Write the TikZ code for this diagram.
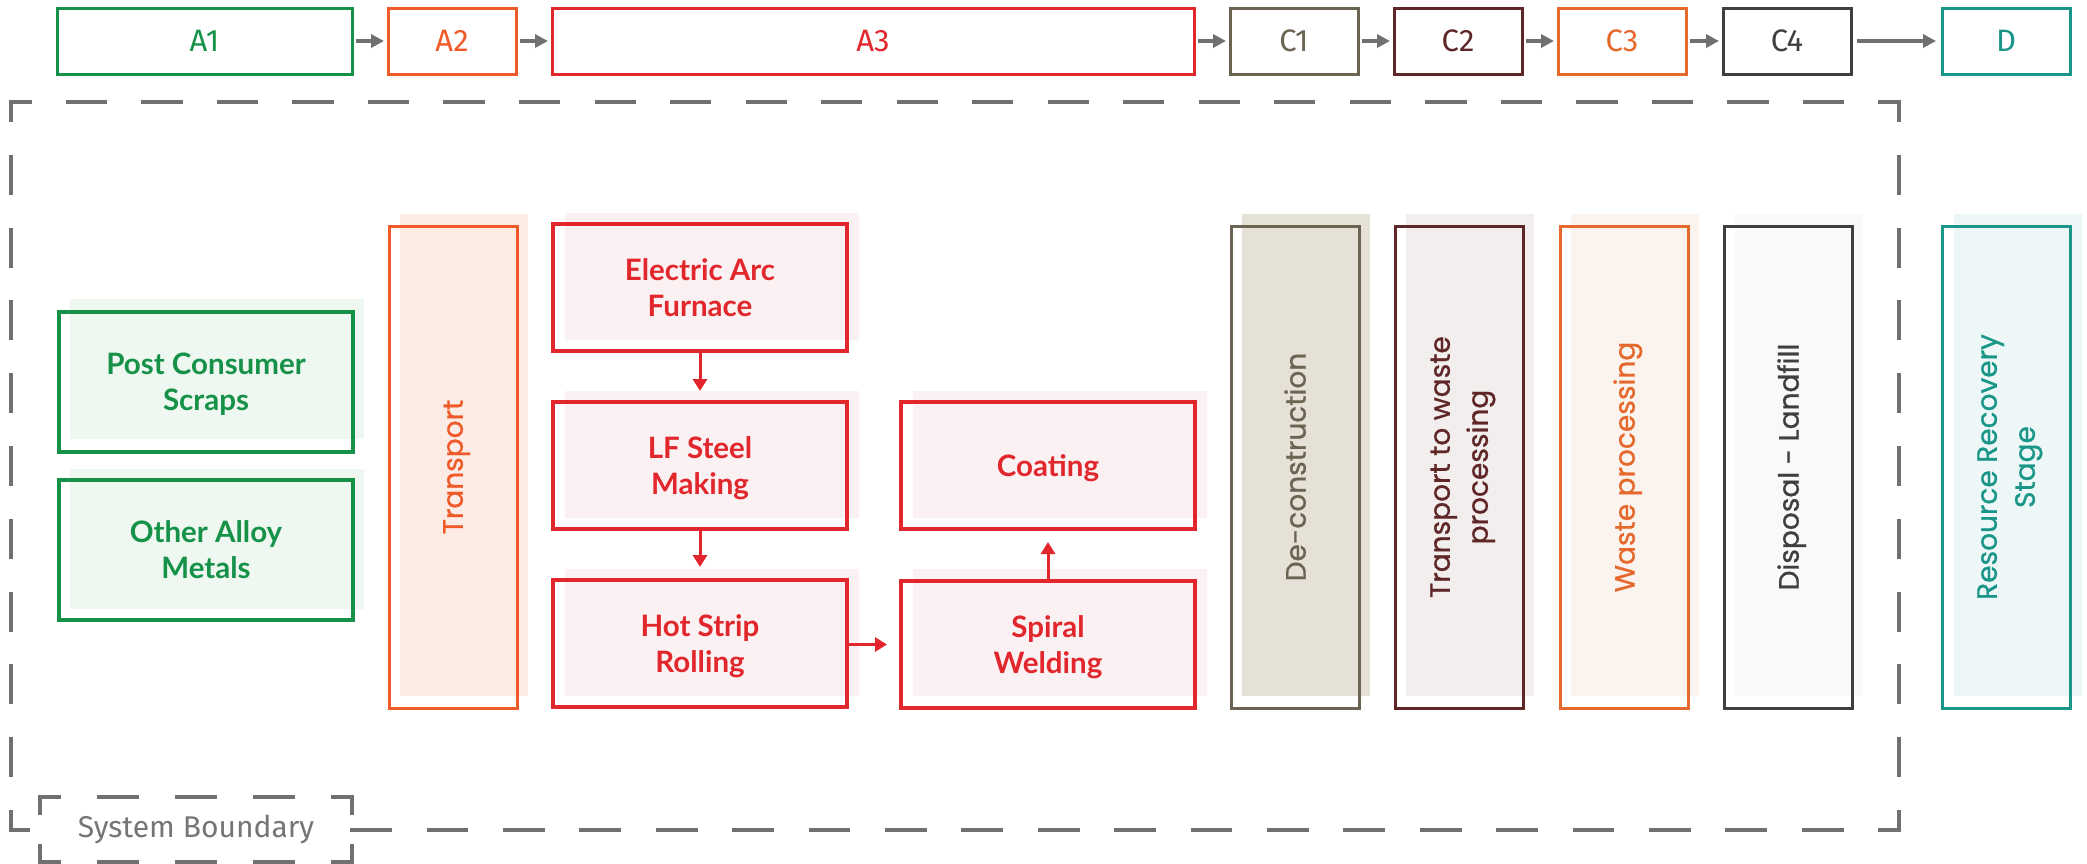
\documentclass[tikz,border=0pt]{standalone}
\usepackage{fontspec}
\setmainfont{Lato}
\newfontfamily\firafont{Fira Sans}
\newfontfamily\popfont{Poppins}[FakeBold=0.8]
\usetikzlibrary{arrows.meta,backgrounds}
\definecolor{cgreen}{HTML}{169248}
\definecolor{fgreen}{HTML}{EFF7F1}
\definecolor{corange}{HTML}{F05A28}
\definecolor{forange}{HTML}{FDEBE6}
\definecolor{cred}{HTML}{E1262C}
\definecolor{fred}{HTML}{FCF1F2}
\definecolor{ctaupe}{HTML}{6B6453}
\definecolor{ftaupe}{HTML}{E6E1D6}
\definecolor{cmaroon}{HTML}{5E2626}
\definecolor{fmaroon}{HTML}{F2EEED}
\definecolor{cwaste}{HTML}{E5692C}
\definecolor{fwaste}{HTML}{FAF3EE}
\definecolor{cdark}{HTML}{3F3F3F}
\definecolor{fdark}{HTML}{F8F9F8}
\definecolor{cteal}{HTML}{1A9688}
\definecolor{fteal}{HTML}{EEF7F8}
\definecolor{cgray}{HTML}{707070}
\definecolor{lgray}{HTML}{757575}
\begin{document}
\begin{tikzpicture}[x=1pt,y=-1pt,
 topbox/.style={draw=#1, text=#1, line width=3pt, minimum width=128pt, minimum height=66pt,
   inner sep=0pt, outer sep=0pt, font=\firafont\fontsize{31}{37}\selectfont},
 procbox/.style={draw=#1, text=#1, line width=3.5pt, minimum width=294pt, minimum height=127pt,
   inner sep=0pt, outer sep=0pt, align=center, text depth=-6pt,
   font=\bfseries\fontsize{29.5}{36}\selectfont},
 vbox/.style={draw=#1, text=#1, line width=3pt, rotate=90, minimum width=482pt, minimum height=128pt,
   inner sep=0pt, outer sep=0pt, align=center, text depth=0pt,
   font=\popfont\fontsize{28}{38}\selectfont},
 garrow/.style={draw=cgray, line width=4pt, -{Triangle[length=13pt,width=13pt]},
   shorten <=4pt, shorten >=4pt},
 rarrow/.style={draw=cred, line width=3pt, -{Triangle[length=12pt,width=14pt]}},
 bound/.style={draw=cgray, line width=3.5pt, line cap=rect},
 sblabel/.style={fill=white, minimum width=312pt, minimum height=65pt, inner sep=0pt, outer sep=0pt,
   text=lgray, font=\firafont\fontsize{30}{36}\selectfont}
]
\useasboundingbox (0,0) rectangle (2087,863);

% ---- top row of stages
\node[topbox=cgreen, minimum width=295pt] (A1) at (204.5,41) {A1};
\node[topbox=corange] (A2) at (452,41) {A2};
\node[topbox=cred, minimum width=642pt] (A3) at (873,41) {A3};
\node[topbox=ctaupe] (C1) at (1294,41) {C1};
\node[topbox=cmaroon] (C2) at (1458,41) {C2};
\node[topbox=cwaste] (C3) at (1622,41) {C3};
\node[topbox=cdark] (C4) at (1787,41) {C4};
\node[topbox=cteal] (D) at (2006,41) {D};
\draw[garrow] (A1) -- (A2);
\draw[garrow] (A2) -- (A3);
\draw[garrow] (A3) -- (C1);
\draw[garrow] (C1) -- (C2);
\draw[garrow] (C2) -- (C3);
\draw[garrow] (C3) -- (C4);
\draw[garrow, shorten <=6pt, shorten >=6pt] (C4) -- (D);

% ---- raw materials
\node[procbox=cgreen, minimum height=140pt] (pcs) at (206,382) {Post Consumer\\Scraps};
\node[procbox=cgreen, minimum height=140pt] (oam) at (206,550) {Other Alloy\\Metals};

% ---- transport
\node[vbox=corange] (tr) at (453,467) {Transport};

% ---- manufacturing
\node[procbox=cred] (eaf) at (700,287.5) {Electric Arc\\Furnace};
\node[procbox=cred] (lf) at (700,465.5) {LF Steel\\Making};
\node[procbox=cred] (hsr) at (700,643.5) {Hot Strip\\Rolling};
\node[procbox=cred, text depth=-9pt] (coat) at (1048,465.5) {Coating};
\node[procbox=cred] (sw) at (1048,644.5) {Spiral\\Welding};
\draw[rarrow, shorten >=11pt] (eaf.south) -- (lf.north);
\draw[rarrow, shorten >=13pt] (lf.south) -- (hsr.north);
\draw[rarrow, shorten >=14pt] (hsr.east |- sw.west) -- (sw.west);
\draw[rarrow, shorten >=13pt] (sw.north) -- (coat.south);

% ---- end of life
\node[vbox=ctaupe] (dec) at (1295,467) {De-construction};
\node[vbox=cmaroon, text depth=-7pt] (tw) at (1459,467) {Transport to waste\\processing};
\node[vbox=cwaste] (wp) at (1624,467) {Waste processing};
\node[vbox=cdark] (dl) at (1788,467) {Disposal - Landfill};
\node[vbox=cteal, text depth=-7pt] (rr) at (2006,467) {Resource Recovery\\Stage};

% ---- offset tint panels behind the boxes
\begin{scope}[on background layer]
\fill[fgreen] ([shift={(11,-13)}]pcs.south west) rectangle ([shift={(11,-13)}]pcs.north east);
\fill[fgreen] ([shift={(11,-11)}]oam.south west) rectangle ([shift={(11,-11)}]oam.north east);
\fill[forange] ([shift={(11,-12)}]tr.south west) rectangle ([shift={(11,-12)}]tr.north east);
\fill[fred] ([shift={(12,-11)}]eaf.south west) rectangle ([shift={(12,-11)}]eaf.north east);
\fill[fred] ([shift={(12,-11)}]lf.south west) rectangle ([shift={(12,-11)}]lf.north east);
\fill[fred] ([shift={(12,-11)}]hsr.south west) rectangle ([shift={(12,-11)}]hsr.north east);
\fill[fred] ([shift={(12,-11)}]coat.south west) rectangle ([shift={(12,-11)}]coat.north east);
\fill[fred] ([shift={(12,-12)}]sw.south west) rectangle ([shift={(12,-12)}]sw.north east);
\fill[ftaupe] ([shift={(11,-12)}]dec.south west) rectangle ([shift={(11,-12)}]dec.north east);
\fill[fmaroon] ([shift={(11,-12)}]tw.south west) rectangle ([shift={(11,-12)}]tw.north east);
\fill[fwaste] ([shift={(11,-12)}]wp.south west) rectangle ([shift={(11,-12)}]wp.north east);
\fill[fdark] ([shift={(11,-12)}]dl.south west) rectangle ([shift={(11,-12)}]dl.north east);
\fill[fteal] ([shift={(12,-12)}]rr.south west) rectangle ([shift={(12,-12)}]rr.north east);
\end{scope}

% ---- system boundary
\coordinate (bTL) at (11,102);
\coordinate (bTR) at (1899,102);
\coordinate (bBR) at (1899,830);
\coordinate (bBL) at (11,830);
\node[sblabel] (sb) at (196,829.5) {System Boundary};
\draw[bound, dash pattern=on 37.76pt off 37.76pt, dash phase=18.88pt] (bTL) -- (bTR);
\draw[bound, dash pattern=on 36.4pt off 36.4pt, dash phase=18.2pt] (bTL) -- (bBL);
\draw[bound, dash pattern=on 36.4pt off 36.4pt, dash phase=18.2pt] (bTR) -- (bBR);
\draw[bound, dash pattern=on 38.2pt off 38.2pt] (sb.east |- bBR) -- (bBR);
\draw[bound] (bBL) -- ++(17,0);
\draw[bound, dash pattern=on 39pt off 39pt, dash phase=19.5pt] (sb.north west) -- (sb.north east);
\draw[bound, dash pattern=on 39pt off 39pt, dash phase=19.5pt] (sb.south west) -- (sb.south east);
\draw[bound, dash pattern=on 32.5pt off 32.5pt, dash phase=16.25pt] (sb.north west) -- (sb.south west);
\draw[bound, dash pattern=on 32.5pt off 32.5pt, dash phase=16.25pt] (sb.north east) -- (sb.south east);
\end{tikzpicture}
\end{document}
